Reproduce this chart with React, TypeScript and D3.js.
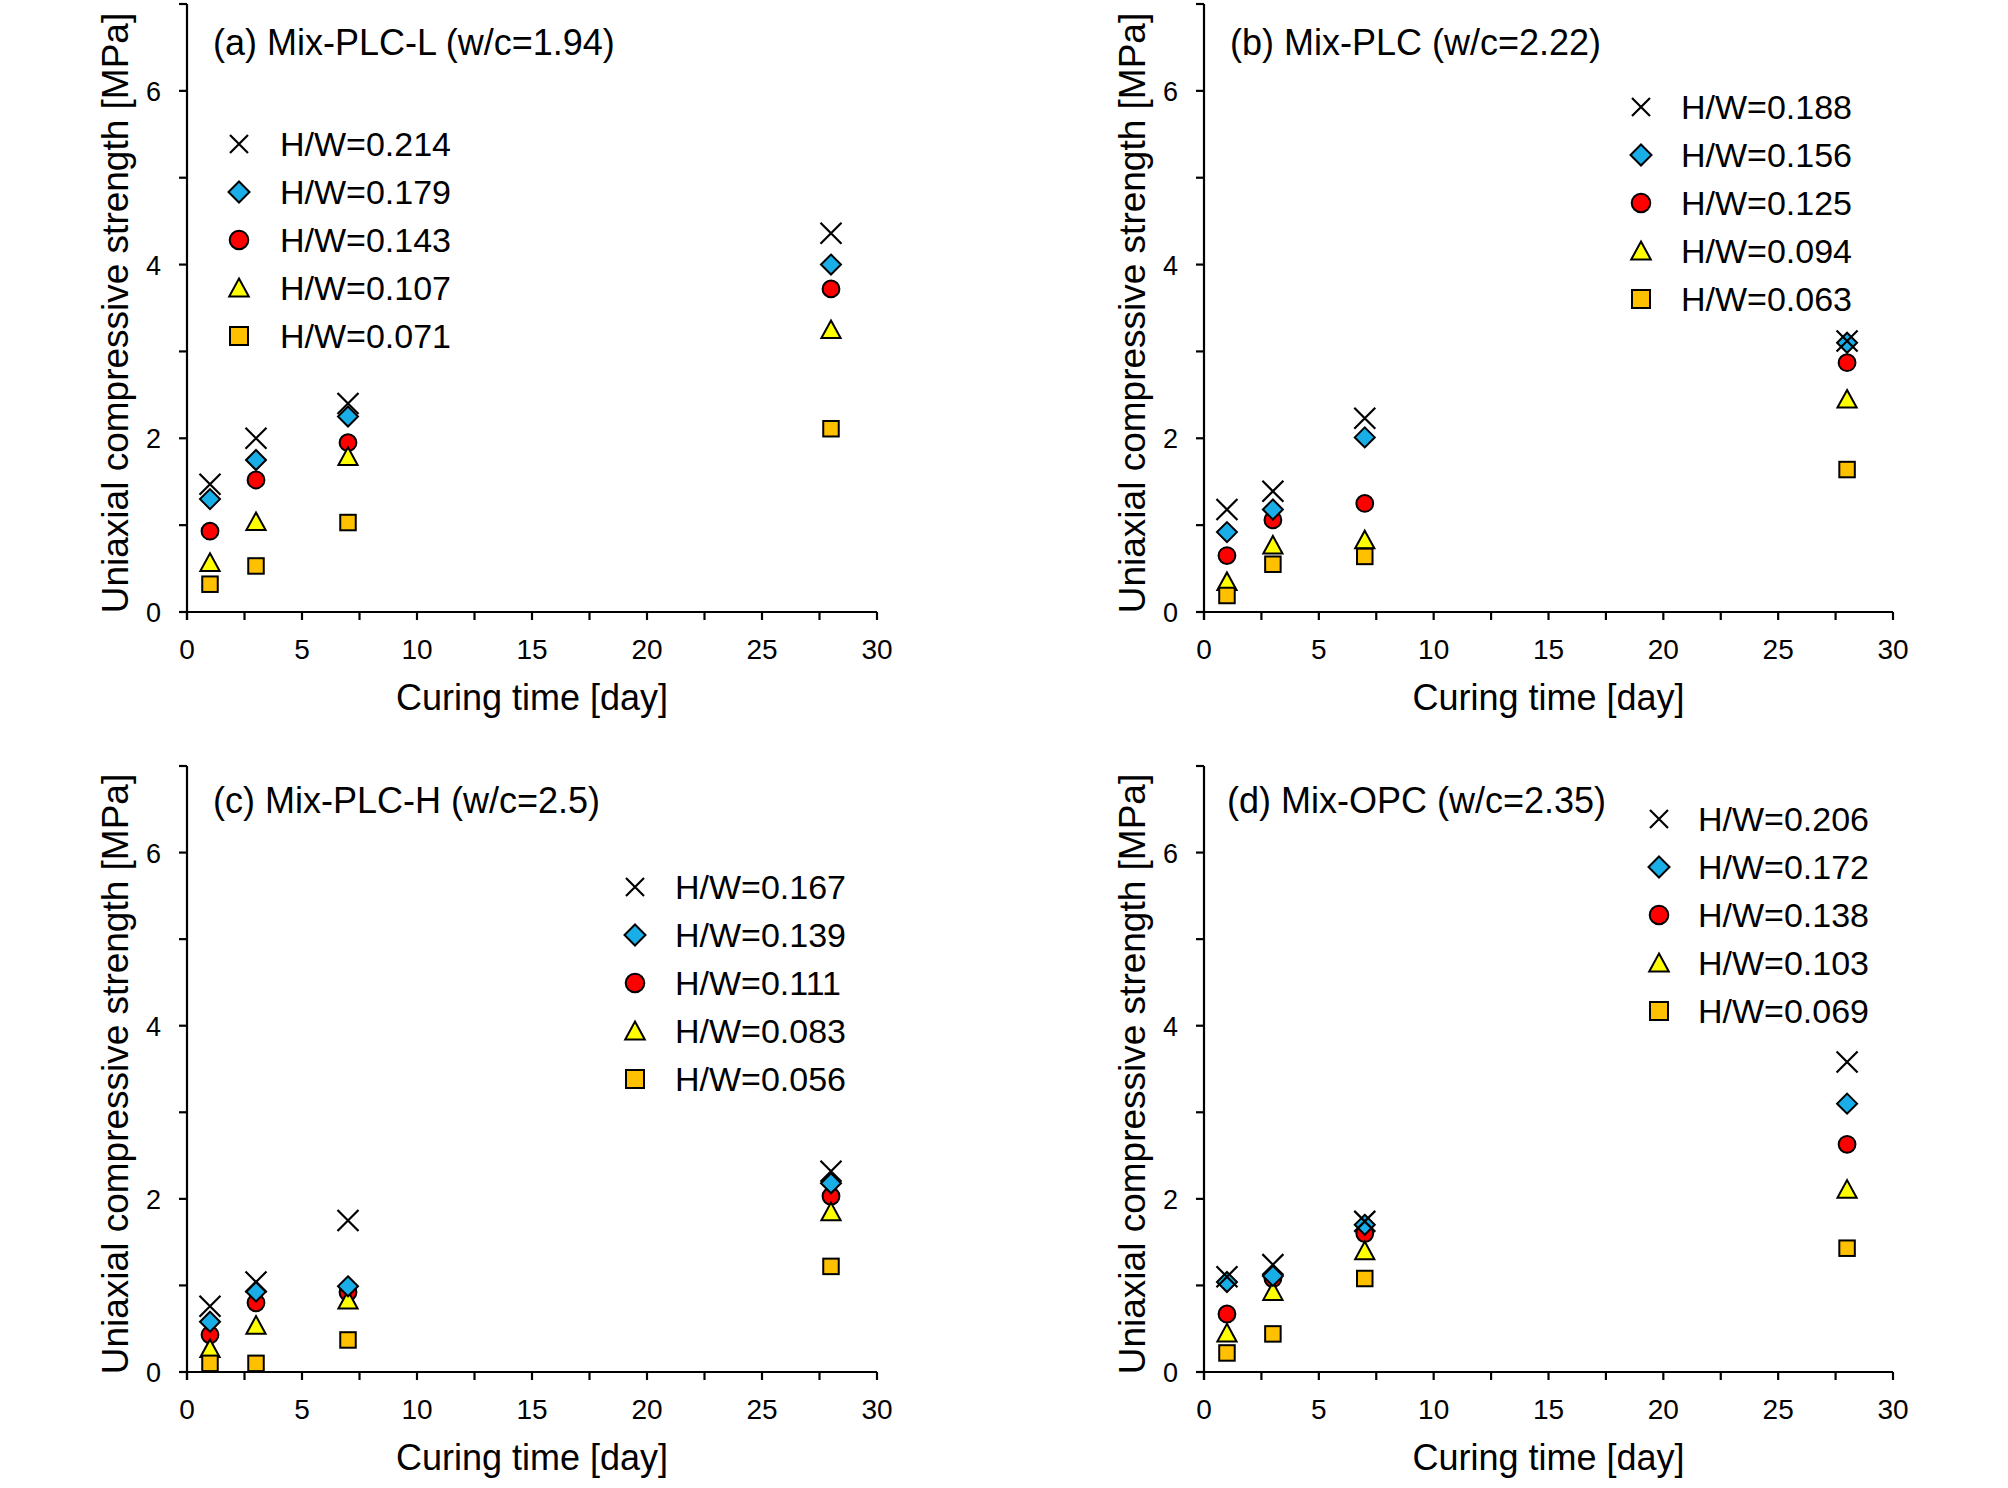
import React from 'react';
import * as d3 from 'd3';

// ---------- data ----------
const days = [1, 3, 7, 28];
const xMajorTicks = [0, 5, 10, 15, 20, 25, 30];
const xMinorTicks = [2.5, 7.5, 12.5, 17.5, 22.5, 27.5];
const yMajorTicks = [0, 2, 4, 6];
const yMinorTicks = [1, 3, 5, 7];

const xAxisTitle = 'Curing time [day]';
const yAxisTitle = 'Uniaxial compressive strength [MPa]';

const seriesKinds = ['cross', 'diamond', 'circle', 'triangle', 'square'];

// (a)
const titleA = '(a) Mix-PLC-L (w/c=1.94)';
const hwA = ['0.214', '0.179', '0.143', '0.107', '0.071'];
const crossA = [1.47, 2.0, 2.4, 4.36];
const diamondA = [1.3, 1.75, 2.25, 4.0];
const circleA = [0.93, 1.52, 1.95, 3.72];
const triangleA = [0.57, 1.04, 1.79, 3.25];
const squareA = [0.32, 0.53, 1.03, 2.11];

// (b)
const titleB = '(b) Mix-PLC (w/c=2.22)';
const hwB = ['0.188', '0.156', '0.125', '0.094', '0.063'];
const crossB = [1.18, 1.39, 2.23, 3.12];
const diamondB = [0.92, 1.18, 2.01, 3.1];
const circleB = [0.65, 1.06, 1.25, 2.87];
const triangleB = [0.35, 0.77, 0.83, 2.45];
const squareB = [0.19, 0.55, 0.64, 1.64];

// (c)
const titleC = '(c) Mix-PLC-H (w/c=2.5)';
const hwC = ['0.167', '0.139', '0.111', '0.083', '0.056'];
const crossC = [0.76, 1.04, 1.75, 2.32];
const diamondC = [0.58, 0.93, 0.99, 2.18];
const circleC = [0.43, 0.8, 0.92, 2.03];
const triangleC = [0.27, 0.54, 0.83, 1.85];
const squareC = [0.1, 0.1, 0.37, 1.22];

// (d)
const titleD = '(d) Mix-OPC (w/c=2.35)';
const hwD = ['0.206', '0.172', '0.138', '0.103', '0.069'];
const crossD = [1.1, 1.24, 1.74, 3.58];
const diamondD = [1.04, 1.11, 1.7, 3.1];
const circleD = [0.67, 1.08, 1.6, 2.63];
const triangleD = [0.45, 0.93, 1.4, 2.11];
const squareD = [0.22, 0.44, 1.08, 1.43];

// ---------- styles / layout ----------
const FONT = '"Liberation Sans", Arial, sans-serif';
const fills: Record<string, string> = {
  cross: 'none',
  diamond: '#1AAEE8',
  circle: '#FF0000',
  triangle: '#FFFF00',
  square: '#FFC000',
};
const drawOrder = ['circle', 'triangle', 'square', 'diamond', 'cross'];

type PanelSpec = {
  title: string;
  hw: string[];
  values: number[][]; // in seriesKinds order
  left: number;
  right: number;
  top: number;
  bottom: number;
  titleX: number;
  titleY: number;
  legX: number;
  legTextX: number;
  legY: number;
};

const panels: PanelSpec[] = [
  {
    title: titleA, hw: hwA, values: [crossA, diamondA, circleA, triangleA, squareA],
    left: 187, right: 877, top: 4, bottom: 612,
    titleX: 213, titleY: 55, legX: 239, legTextX: 280, legY: 144,
  },
  {
    title: titleB, hw: hwB, values: [crossB, diamondB, circleB, triangleB, squareB],
    left: 1204, right: 1893, top: 4, bottom: 612,
    titleX: 1230, titleY: 55, legX: 1641, legTextX: 1681, legY: 107,
  },
  {
    title: titleC, hw: hwC, values: [crossC, diamondC, circleC, triangleC, squareC],
    left: 187, right: 877, top: 766, bottom: 1372,
    titleX: 213, titleY: 813, legX: 635, legTextX: 675, legY: 887,
  },
  {
    title: titleD, hw: hwD, values: [crossD, diamondD, circleD, triangleD, squareD],
    left: 1204, right: 1893, top: 766, bottom: 1372,
    titleX: 1227, titleY: 813, legX: 1659, legTextX: 1698, legY: 819,
  },
];

function Marker({ kind, cx, cy, big }: { kind: string; cx: number; cy: number; big?: boolean }) {
  const sw = 2;
  if (kind === 'cross') {
    const h = big ? 9 : 10.5;
    return (
      <path
        d={`M${cx - h},${cy - h}L${cx + h},${cy + h}M${cx - h},${cy + h}L${cx + h},${cy - h}`}
        stroke="#000" strokeWidth={2.2} fill="none"
      />
    );
  }
  if (kind === 'diamond') {
    const h = big ? 10.5 : 10;
    return (
      <path
        d={`M${cx},${cy - h}L${cx + h},${cy}L${cx},${cy + h}L${cx - h},${cy}Z`}
        fill={fills.diamond} stroke="#000" strokeWidth={sw}
      />
    );
  }
  if (kind === 'circle') {
    const r = big ? 9.3 : 8.4;
    return <circle cx={cx} cy={cy} r={r} fill={fills.circle} stroke="#000" strokeWidth={sw} />;
  }
  if (kind === 'triangle') {
    const w = big ? 9.8 : 9.6;
    const hTop = big ? 9.5 : 9.2;
    const hBot = big ? 8.5 : 8.4;
    return (
      <path
        d={`M${cx},${cy - hTop}L${cx + w},${cy + hBot}L${cx - w},${cy + hBot}Z`}
        fill={fills.triangle} stroke="#000" strokeWidth={sw} strokeLinejoin="miter"
      />
    );
  }
  const s = big ? 18 : 15.5;
  return (
    <rect x={cx - s / 2} y={cy - s / 2} width={s} height={s}
      fill={fills.square} stroke="#000" strokeWidth={sw} />
  );
}

function Panel({ p }: { p: PanelSpec }) {
  const x = d3.scaleLinear().domain([0, 30]).range([p.left, p.right]);
  const y = d3.scaleLinear().domain([0, 7]).range([p.bottom, p.top]);
  const tick = 8;
  const axisW = 2.2;
  const midY = (p.top + p.bottom) / 2 + 5;
  const midX = (p.left + p.right) / 2;
  return (
    <g>
      {/* axes */}
      <line x1={x(0) - tick} x2={x(30)} y1={y(0)} y2={y(0)} stroke="#000" strokeWidth={axisW} />
      <line x1={x(0)} x2={x(0)} y1={y(0) + tick} y2={y(7)} stroke="#000" strokeWidth={axisW} />
      {xMajorTicks.concat(xMinorTicks).map((t) => (
        <line key={'xt' + t} x1={x(t)} x2={x(t)} y1={y(0)} y2={y(0) + tick} stroke="#000" strokeWidth={axisW} />
      ))}
      {yMajorTicks.concat(yMinorTicks).map((t) => (
        <line key={'yt' + t} x1={x(0) - tick} x2={x(0)} y1={y(t)} y2={y(t)} stroke="#000" strokeWidth={axisW} />
      ))}
      {xMajorTicks.map((t) => (
        <text key={'xl' + t} x={x(t)} y={y(0) + 47} textAnchor="middle" fontSize={28} fontFamily={FONT}>
          {t}
        </text>
      ))}
      {yMajorTicks.map((t) => (
        <text key={'yl' + t} x={x(0) - 26} y={y(t) + 10} textAnchor="end" fontSize={27} fontFamily={FONT}>
          {t}
        </text>
      ))}
      <text x={midX} y={y(0) + 98} textAnchor="middle" fontSize={36} fontFamily={FONT}>
        {xAxisTitle}
      </text>
      <text
        transform={`translate(${x(0) - 59},${midY}) rotate(-90)`}
        textAnchor="middle" fontSize={37} fontFamily={FONT}
      >
        {yAxisTitle}
      </text>
      {/* title */}
      <text x={p.titleX} y={p.titleY} fontSize={36} fontFamily={FONT}>
        {p.title}
      </text>
      {/* legend */}
      {seriesKinds.map((k, i) => (
        <g key={'lg' + k}>
          <Marker kind={k} cx={p.legX} cy={p.legY + i * 48} big />
          <text x={p.legTextX} y={p.legY + i * 48 + 12} fontSize={34} fontFamily={FONT}>
            {'H/W=' + p.hw[i]}
          </text>
        </g>
      ))}
      {/* data */}
      {drawOrder.map((k) => {
        const idx = seriesKinds.indexOf(k);
        return p.values[idx].map((v, j) => (
          <Marker key={k + j} kind={k} cx={x(days[j])} cy={y(v)} />
        ));
      })}
    </g>
  );
}

export default function App() {
  return (
    <svg
      width={2008}
      height={1488}
      style={{ position: 'absolute', left: 0, top: 0, background: '#fff' }}
    >
      <rect x={0} y={0} width={2008} height={1488} fill="#fff" />
      {panels.map((p, i) => (
        <Panel key={i} p={p} />
      ))}
    </svg>
  );
}
